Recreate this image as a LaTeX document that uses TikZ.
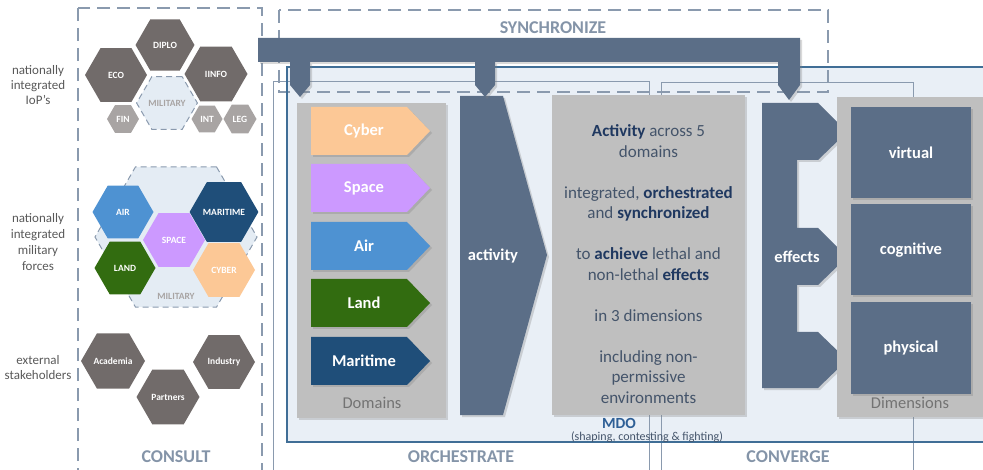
\documentclass[tikz,border=0pt]{standalone}
\usepackage{fontspec}
\setmainfont{Carlito}
\usetikzlibrary{shapes.geometric,shadows}

\definecolor{slate}{RGB}{91,110,135}
\definecolor{panel}{RGB}{191,191,191}
\definecolor{mdofill}{RGB}{233,239,246}
\definecolor{mdoline}{RGB}{64,110,150}
\definecolor{frameline}{RGB}{138,154,174}
\definecolor{lbl}{RGB}{132,148,168}
\definecolor{hexdark}{RGB}{113,107,106}
\definecolor{hexlight}{RGB}{168,164,163}
\definecolor{milfill}{RGB}{228,236,244}
\definecolor{cybcol}{RGB}{252,200,150}
\definecolor{spacol}{RGB}{204,153,255}
\definecolor{aircol}{RGB}{78,146,210}
\definecolor{landcol}{RGB}{50,108,16}
\definecolor{maricol}{RGB}{31,78,121}
\definecolor{txtcol}{RGB}{68,84,106}
\definecolor{boldcol}{RGB}{31,56,96}
\definecolor{mdotxt}{RGB}{46,95,150}

\newcommand\kw[1]{\textbf{\textcolor{boldcol}{#1}}}

\tikzset{
  shad/.style={drop shadow={opacity=0.3,shadow xshift=2pt,shadow yshift=-2pt}},
  hexa/.style={regular polygon,regular polygon sides=6,minimum size=#1,inner sep=0pt,
    fill=hexdark,text=white,font=\fontsize{9.5}{10}\selectfont\bfseries},
  hexl/.style={hexa=#1,fill=hexlight},
  milhex/.style={regular polygon,regular polygon sides=6,minimum size=#1,inner sep=0pt,
    fill=milfill,draw=frameline,line width=1pt,dash pattern=on 6pt off 4pt,
    text=hexlight,font=\fontsize{9.5}{10}\selectfont\bfseries},
  dashbox/.style={draw=frameline,line width=1.3pt,dash pattern=on 13pt off 7pt},
  thinbox/.style={draw=frameline,line width=0.9pt},
  framelbl/.style={text=lbl,font=\fontsize{18}{18}\selectfont\bfseries},
  sidelbl/.style={text=black!65,align=center,font=\fontsize{13}{15}\selectfont},
  whitelbl/.style={text=white,font=\fontsize{16.5}{18}\selectfont\bfseries},
  greylbl/.style={text=black!55,font=\fontsize{16.5}{18}\selectfont},
  dimbox/.style={fill=slate,minimum width=120pt,minimum height=91pt,whitelbl,shad},
}

\begin{document}
\begin{tikzpicture}[x=1pt,y=-1pt]
  \useasboundingbox (0,0) rectangle (983,470);
  \clip (0,0) rectangle (983,470);

  \fill[mdofill] (287,67) rectangle (995,442);
  \draw[dashbox] (78,8) rectangle (262,490);
  \draw[thinbox] (273,81) rectangle (649,490);
  \draw[thinbox] (661,82) rectangle (913,490);
  \draw[dashbox] (279,10) rectangle (828,92);
  \draw[mdoline,line width=1.3pt] (287,67) rectangle (995,442);

  \node[framelbl] (syn) at (553,28) {SYNCHRONIZE};
  \node[framelbl] (con) at (176,457) {CONSULT};
  \node[framelbl] (orc) at (461,457) {ORCHESTRATE};
  \node[framelbl] (cvg) at (788,457) {CONVERGE};

  \node[sidelbl] (iop) at (38,85) {nationally\\integrated\\IoP’s};
  \node[sidelbl,font=\fontsize{13}{16.3}\selectfont] (frc) at (38,242) {nationally\\integrated\\military\\forces};
  \node[sidelbl] (ext) at (38,367.5) {external\\stakeholders};

  \node[milhex=60] (mil) at (167,103) {MILITARY};
  \node[hexa=59] (dip) at (165,45) {DIPLO};
  \node[hexa=62] (eco) at (116,75) {ECO};
  \node[hexa=63] (inf) at (216,74) {IINFO};
  \node[hexl=32] (fin) at (123,119) {FIN};
  \node[hexl=31] (int) at (207,119) {INT};
  \node[hexl=33] (leg) at (240,119) {LEG};

  \node[milhex=162] (milb) at (176,237) {};
  \node[text=hexlight,font=\fontsize{9.5}{10}\selectfont\bfseries] (milt) at (176,296) {MILITARY};
  \node[hexa=61,fill=aircol] (air) at (123,212) {AIR};
  \node[hexa=62,fill=maricol] (mar) at (224,212) {MARITIME};
  \node[hexa=62,fill=spacol] (spa) at (174,240) {SPACE};
  \node[hexa=61,fill=landcol] (lnd) at (125,268) {LAND};
  \node[hexa=62,fill=cybcol] (cyb) at (224,270) {CYBER};

  \node[hexa=64] (aca) at (113,361) {Academia};
  \node[hexa=62] (ind) at (224,362) {Industry};
  \node[hexa=63] (par) at (168,397) {Partners};

  \fill[panel,shad] (297,103) rectangle (446,418);
  \foreach \n/\t/\c/\y in {d_cyb/Cyber/cybcol/107,d_spa/Space/spacol/164,d_air/Air/aircol/222,d_lnd/Land/landcol/279,d_mar/Maritime/maricol/337}{
    \fill[\c,shad] (311,\y) -- (407,\y) -- (430,\y+24) -- (407,\y+48) -- (311,\y+48) -- cycle;
    \node[whitelbl] (\n) at (364,\y+24) {\t};
  }
  \node[greylbl] (dom) at (372,403) {Domains};

  \fill[slate,shad] (460,96) -- (503,96) -- (547,255) -- (503,415) -- (460,415) -- cycle;
  \node[whitelbl] (act) at (493,256) {activity};

  \fill[panel,shad] (552,95) rectangle (745,415);
  \node[text=txtcol,align=center,font=\fontsize{17}{20.5}\selectfont] (txt) at (648.5,264) {%
    \kw{Activity} across 5\\ domains\\[20.5pt]
    integrated, \kw{orchestrated}\\ and \kw{synchronized}\\[20.5pt]
    to \kw{achieve} lethal and\\ non-lethal \kw{effects}\\[20.5pt]
    in 3 dimensions\\[20.5pt]
    including non-\\ permissive\\ environments};
  \node[text=mdotxt,font=\fontsize{15.5}{16}\selectfont\bfseries,inner sep=1pt] (mdo) at (619,423) {MDO};
  \node[text=txtcol,font=\fontsize{12}{13}\selectfont,inner sep=1pt] (mdos) at (647,437.5) {(shaping, contesting \& fighting)};

  \fill[slate,shad] (762,103) -- (818,103) -- (847,132) -- (818,160) -- (797,160) -- (797,228)
    -- (818,228) -- (847,257) -- (818,285) -- (797,285) -- (797,332) -- (818,332) -- (847,360)
    -- (818,388) -- (762,388) -- cycle;
  \node[whitelbl] (eff) at (797,257) {effects};

  \fill[panel,shad] (837,97) rectangle (995,417);
  \node[dimbox] (vir) at (911,152.5) {virtual};
  \node[dimbox] (cog) at (911,250) {cognitive};
  \node[dimbox] (phy) at (911,348) {physical};
  \node[greylbl] (dim) at (910,403) {Dimensions};

  \fill[slate,shad] (258,38) -- (800,38) -- (800,85) -- (789,100) -- (778,85) -- (778,62)
    -- (495,62) -- (495,85) -- (485,97) -- (475,85) -- (475,62) -- (310,62) -- (310,85)
    -- (300,97) -- (290,85) -- (290,62) -- (258,62) -- cycle;
\end{tikzpicture}
\end{document}
